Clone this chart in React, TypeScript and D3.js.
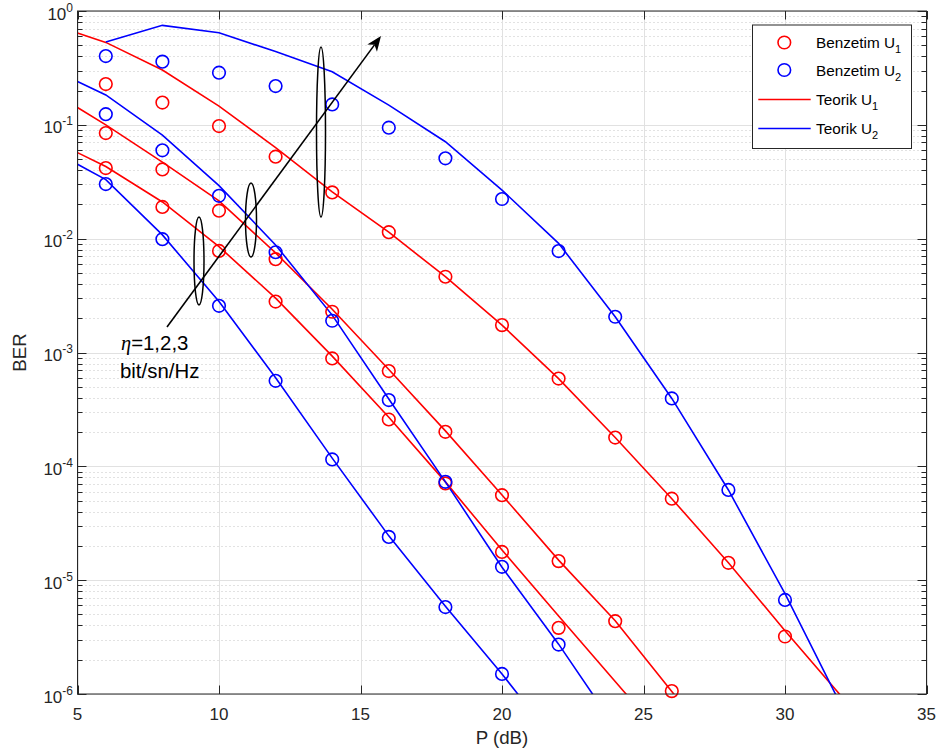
import React from "react";
import * as d3 from "d3";

const W = 939;
const H = 756;

// x positions (dB)
const simX = [6, 8, 10, 12, 14, 16, 18, 20, 22, 24, 26, 28, 30];
const thX = [5, 6, 8, 10, 12, 14, 16, 18, 20, 22, 24, 26, 28, 30, 32];

// Simulation (Benzetim) values, starting at x = 6
const simU1Eta1 = [0.0417, 0.019, 0.0078, 0.0028, 0.000887, 0.000258, 7.08e-5, 1.77e-5, 3.81e-6];
const simU1Eta2 = [0.0847, 0.0406, 0.0176, 0.0066, 0.00228, 0.000687, 0.000201, 5.58e-5, 1.47e-5, 4.36e-6, 1.06e-6];
const simU1Eta3 = [0.228, 0.157, 0.0976, 0.0525, 0.0255, 0.0114, 0.00463, 0.00174, 0.00059, 0.000179, 5.2e-5, 1.42e-5, 3.2e-6];
const simU2Eta1 = [0.0302, 0.0099, 0.00257, 0.000564, 0.000115, 2.4e-5, 5.8e-6, 1.5e-6];
const simU2Eta2 = [0.124, 0.0597, 0.0238, 0.0076, 0.0019, 0.000382, 7.31e-5, 1.31e-5, 2.72e-6];
const simU2Eta3 = [0.402, 0.359, 0.287, 0.219, 0.151, 0.0944, 0.0508, 0.0223, 0.00778, 0.00206, 0.000395, 6.2e-5, 6.7e-6];

// Theoretical (Teorik) values, starting at x = 5
const thU1Eta1 = [0.057, 0.043, 0.021, 0.0085, 0.003, 0.00093, 0.00027, 7.3e-5, 1.84e-5, 4.85e-6, 1.29e-6, 3.4e-7];
const thU1Eta2 = [0.142, 0.1, 0.047, 0.0215, 0.0075, 0.0024, 0.00071, 0.000205, 5.6e-5, 1.5e-5, 4.4e-6, 1.05e-6, 2.6e-7];
const thU1Eta3 = [0.64, 0.53, 0.303, 0.146, 0.063, 0.0258, 0.0114, 0.00463, 0.00174, 0.00059, 0.000179, 5.2e-5, 1.42e-5, 3.6e-6, 9.5e-7];
const thU2Eta1 = [0.045, 0.033, 0.0108, 0.0028, 0.0006, 0.000118, 2.45e-5, 5.9e-6, 1.5e-6, 3.5e-7];
const thU2Eta2 = [0.24, 0.183, 0.0813, 0.0292, 0.0088, 0.00213, 0.00039, 7.3e-5, 1.3e-5, 2.74e-6, 5.1e-7];
const thU2Eta3 = [null, 0.534, 0.748, 0.645, 0.44, 0.293, 0.149, 0.071, 0.0267, 0.0091, 0.00206, 0.000395, 6.2e-5, 7.6e-6, 7.8e-7];

const xTicks = [5, 10, 15, 20, 25, 30, 35];
const yExponents = [0, -1, -2, -3, -4, -5, -6];

const RED = "#ff0000";
const BLUE = "#0000ff";
const AX = "#262626";
const FONT = "'Liberation Sans', Arial, Helvetica, sans-serif";

const simSeries = [
  { vals: simU1Eta1, color: RED },
  { vals: simU1Eta2, color: RED },
  { vals: simU1Eta3, color: RED },
  { vals: simU2Eta1, color: BLUE },
  { vals: simU2Eta2, color: BLUE },
  { vals: simU2Eta3, color: BLUE },
];
const thSeries = [
  { vals: thU1Eta1, color: RED },
  { vals: thU1Eta2, color: RED },
  { vals: thU1Eta3, color: RED },
  { vals: thU2Eta1, color: BLUE },
  { vals: thU2Eta2, color: BLUE },
  { vals: thU2Eta3, color: BLUE },
];

export default function App() {
  const L = 77.5, R = 926.5, T = 11, B = 694;
  const x = d3.scaleLinear().domain([5, 35]).range([L, R]);
  const y = d3.scaleLog().domain([1e-6, 1]).range([B, T]);

  const minorY: number[] = [];
  for (let e = -6; e < 0; e++) {
    for (let m = 2; m <= 9; m++) minorY.push(m * Math.pow(10, e));
  }

  const line = d3
    .line<[number, number | null]>()
    .defined((d) => d[1] != null)
    .x((d) => x(d[0]))
    .y((d) => y(d[1] as number));

  // arrow geometry
  const a0 = [167, 327], a1 = [381, 36];
  const dx = a1[0] - a0[0], dy = a1[1] - a0[1];
  const len = Math.hypot(dx, dy);
  const ux = dx / len, uy = dy / len;
  const nx = -uy, ny = ux;
  const hl = 15, hw = 6, notch = 11;
  const bx = a1[0] - hl * ux, by = a1[1] - hl * uy;
  const head = [
    [a1[0], a1[1]],
    [bx + hw * nx, by + hw * ny],
    [a1[0] - notch * ux, a1[1] - notch * uy],
    [bx - hw * nx, by - hw * ny],
  ];

  const legendRows = [
    { label: "Benzetim U", sub: "1", color: RED, kind: "marker", cy: 42.5 },
    { label: "Benzetim U", sub: "2", color: BLUE, kind: "marker", cy: 70 },
    { label: "Teorik U", sub: "1", color: RED, kind: "line", cy: 99.5 },
    { label: "Teorik U", sub: "2", color: BLUE, kind: "line", cy: 128.5 },
  ];

  return (
    <svg
      width={W}
      height={H}
      style={{ position: "absolute", left: 0, top: 0, background: "#fff" }}
      fontFamily={FONT}
    >
      <defs>
        <clipPath id="plotClip">
          <rect x={L} y={T} width={R - L} height={B - T} />
        </clipPath>
      </defs>
      <rect x={0} y={0} width={W} height={H} fill="#fff" />
      <rect x={L} y={T} width={R - L} height={B - T} fill="#fff" />

      {/* minor y grid */}
      {minorY.map((v, i) => (
        <line
          key={"mg" + i}
          x1={L}
          x2={R}
          y1={Math.round(y(v)) + 0.5}
          y2={Math.round(y(v)) + 0.5}
          stroke="#c4c4c4"
          strokeWidth={1}
          strokeDasharray="1,3"
        />
      ))}
      {/* major grid */}
      {yExponents.map((e) => (
        <line
          key={"gy" + e}
          x1={L}
          x2={R}
          y1={Math.round(y(Math.pow(10, e))) + 0.5}
          y2={Math.round(y(Math.pow(10, e))) + 0.5}
          stroke="#e1e1e1"
          strokeWidth={1}
        />
      ))}
      {xTicks.map((t) => (
        <line
          key={"gx" + t}
          x1={Math.round(x(t)) + 0.5}
          x2={Math.round(x(t)) + 0.5}
          y1={T}
          y2={B}
          stroke="#e1e1e1"
          strokeWidth={1}
        />
      ))}

      {/* data */}
      <g clipPath="url(#plotClip)">
        {thSeries.map((s, i) => (
          <path
            key={"th" + i}
            d={line(thX.slice(0, s.vals.length).map((xx, j) => [xx, s.vals[j]] as [number, number | null])) || ""}
            fill="none"
            stroke={s.color}
            strokeWidth={1.6}
          />
        ))}
      </g>
      {simSeries.map((s, i) => (
        <g key={"sim" + i}>
          {s.vals.map((v, j) =>
            v >= 1e-6 ? (
              <circle
                key={j}
                cx={x(simX[j])}
                cy={y(v)}
                r={6.3}
                fill="none"
                stroke={s.color}
                strokeWidth={1.6}
              />
            ) : null
          )}
        </g>
      ))}

      {/* annotations */}
      <ellipse cx={199} cy={261} rx={5} ry={44} fill="none" stroke="#000" strokeWidth={1.5} />
      <ellipse cx={251} cy={220} rx={5.5} ry={37} fill="none" stroke="#000" strokeWidth={1.5} />
      <ellipse cx={321} cy={132} rx={4.5} ry={85} fill="none" stroke="#000" strokeWidth={1.5} />
      <line
        x1={a0[0]}
        y1={a0[1]}
        x2={a1[0] - notch * ux}
        y2={a1[1] - notch * uy}
        stroke="#000"
        strokeWidth={1.6}
      />
      <polygon points={head.map((p) => p.join(",")).join(" ")} fill="#000" />
      <text x={121} y={350} fontSize={20.4} fill="#000">
        <tspan fontFamily="'Liberation Serif', 'DejaVu Serif', serif" fontStyle="italic">η</tspan>
        <tspan>=1,2,3</tspan>
      </text>
      <text x={120} y={378} fontSize={20.4} fill="#000">
        bit/sn/Hz
      </text>

      {/* axes box */}
      <rect x={L} y={T} width={R - L} height={B - T} fill="none" stroke={AX} strokeWidth={1} />

      {/* x ticks */}
      {xTicks.map((t) => {
        const px = Math.round(x(t)) + 0.5;
        return (
          <g key={"xt" + t}>
            <line x1={px} x2={px} y1={B} y2={B - 8.5} stroke={AX} strokeWidth={1} />
            <line x1={px} x2={px} y1={T} y2={T + 8.5} stroke={AX} strokeWidth={1} />
            <text x={x(t)} y={720} fontSize={17} textAnchor="middle" fill={AX}>
              {t}
            </text>
          </g>
        );
      })}

      {/* y ticks */}
      {yExponents.map((e) => {
        const py = Math.round(y(Math.pow(10, e))) + 0.5;
        return (
          <g key={"yt" + e}>
            <line x1={L} x2={L + 9} y1={py} y2={py} stroke={AX} strokeWidth={1} />
            <line x1={R} x2={R - 9} y1={py} y2={py} stroke={AX} strokeWidth={1} />
            <text x={73} y={y(Math.pow(10, e)) + 8.5} fontSize={17} textAnchor="end" fill={AX}>
              10
              <tspan fontSize={12} dy={-8}>
                {e === 0 ? "0" : String(e)}
              </tspan>
            </text>
          </g>
        );
      })}
      {minorY.map((v, i) => {
        const py = Math.round(y(v)) + 0.5;
        return (
          <g key={"myt" + i}>
            <line x1={L} x2={L + 5} y1={py} y2={py} stroke={AX} strokeWidth={1} />
            <line x1={R} x2={R - 5} y1={py} y2={py} stroke={AX} strokeWidth={1} />
          </g>
        );
      })}

      {/* axis labels */}
      <text x={(L + R) / 2} y={744} fontSize={18.7} textAnchor="middle" fill={AX}>
        P (dB)
      </text>
      <text
        transform={`translate(26, ${(T + B) / 2}) rotate(-90)`}
        fontSize={18.7}
        textAnchor="middle"
        fill={AX}
      >
        BER
      </text>

      {/* legend */}
      <rect x={752.5} y={25} width={159} height={123.5} fill="#fff" stroke={AX} strokeWidth={1} />
      {legendRows.map((r, i) => (
        <g key={"lg" + i}>
          {r.kind === "marker" ? (
            <circle cx={784.3} cy={r.cy} r={6.3} fill="none" stroke={r.color} strokeWidth={1.6} />
          ) : (
            <line x1={758.3} x2={810.7} y1={r.cy} y2={r.cy} stroke={r.color} strokeWidth={1.6} />
          )}
          <text x={816} y={r.cy + 5.5} fontSize={15.3} fill="#000">
            {r.label}
            <tspan fontSize={11} dy={5}>
              {r.sub}
            </tspan>
          </text>
        </g>
      ))}
    </svg>
  );
}
